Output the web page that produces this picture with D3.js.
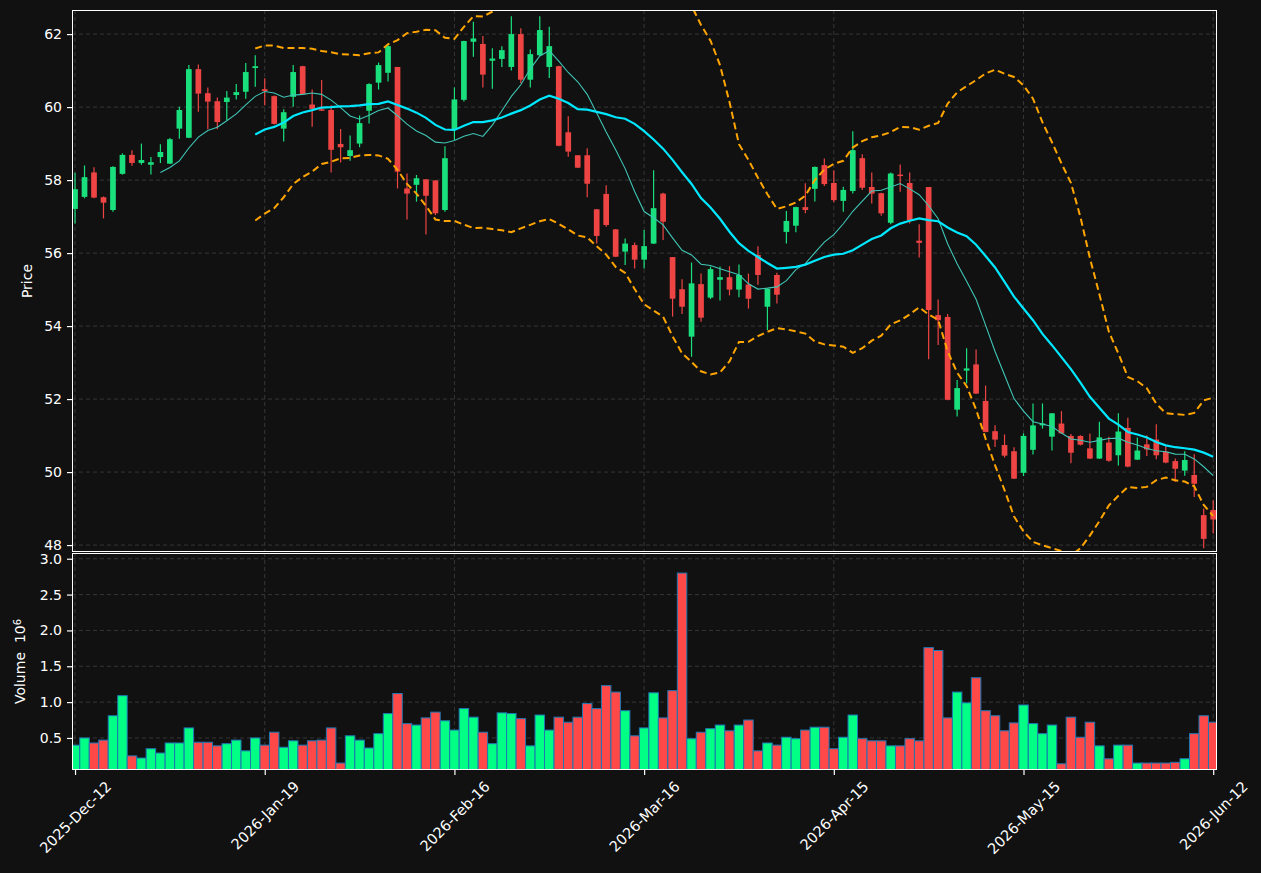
<!DOCTYPE html>
<html>
<head>
<meta charset="utf-8">
<script src="https://cdn.jsdelivr.net/npm/d3@7"></script>
<style>
  body { margin: 0; background: #111111; }
  text { font-family: "DejaVu Sans", sans-serif; }
</style>
</head>
<body>
<div id="chart"></div>
<script>
// daily OHLC, index 0 = 2025-Dec-12
const opens = [57.21,57.54,58.21,57.53,57.18,58.17,58.69,58.47,58.42,58.63,
  58.45,59.41,59.16,61.04,60.38,60.16,60.14,60.33,60.42,61.07,
  60.49,60.30,59.41,60.28,61.12,60.07,59.94,59.92,58.99,58.66,
  59.00,59.90,60.67,60.94,61.10,57.77,57.87,58.02,57.99,57.18,
  59.40,60.20,61.79,61.73,61.27,61.32,61.10,62.00,60.75,61.42,
  61.10,61.12,59.31,58.68,58.68,57.20,57.62,56.65,56.04,56.22,
  55.82,56.26,57.63,55.89,55.01,53.71,55.15,54.78,55.27,55.34,
  55.00,55.14,55.95,54.53,55.40,56.58,56.75,57.26,57.76,58.41,
  57.92,57.43,57.70,58.60,57.81,57.64,56.83,58.15,57.92,56.34,
  57.81,54.30,54.25,51.71,52.78,52.95,51.95,51.12,50.74,50.57,
  49.98,50.61,51.28,50.97,51.33,50.99,50.99,50.65,50.37,50.81,
  50.46,51.21,50.34,50.76,50.89,50.56,50.30,50.04,49.92,48.82,48.96];
const highs = [58.20,58.40,58.35,57.55,58.38,58.73,58.82,59.00,58.63,58.98,
  59.15,60.01,61.15,61.17,60.54,60.26,60.44,60.63,61.21,61.42,
  60.79,60.32,59.94,61.15,61.13,60.48,60.74,60.05,59.40,59.22,
  59.77,60.65,61.22,61.74,61.10,58.18,58.14,58.03,58.00,58.93,
  60.54,61.82,62.34,61.95,61.61,61.67,62.49,62.16,61.58,62.49,
  62.20,61.13,59.75,58.69,58.87,57.21,57.86,56.66,56.40,56.29,
  56.63,58.27,57.65,55.89,55.28,55.74,55.44,55.63,55.63,55.64,
  55.69,55.44,56.19,55.03,55.46,57.15,57.27,57.91,58.37,58.59,
  58.27,57.82,59.34,58.71,58.21,57.65,58.21,58.43,58.21,56.79,
  57.81,54.73,54.33,52.52,53.39,53.36,52.37,51.28,51.03,50.68,
  51.06,51.88,51.88,51.62,51.67,51.04,51.01,51.06,51.38,50.97,
  51.61,51.49,50.95,51.01,51.31,50.71,50.37,50.57,50.49,49.00,49.23];
const lows = [56.81,57.50,57.50,56.95,57.13,58.15,58.39,58.42,58.15,58.47,
  58.44,59.13,59.15,59.87,59.39,59.39,59.64,60.21,60.23,60.56,
  60.05,59.52,59.06,60.01,60.34,59.46,59.89,58.21,58.48,58.53,
  58.90,59.55,60.48,60.70,57.77,56.92,57.41,56.51,57.04,57.13,
  59.10,60.15,61.38,60.54,60.50,61.10,61.00,60.65,60.54,61.40,
  60.80,58.93,58.64,58.33,57.53,56.26,56.72,55.89,55.67,55.58,
  55.58,56.25,56.36,54.26,54.33,53.16,54.12,54.74,54.70,54.84,
  54.79,54.48,55.13,53.89,54.62,56.26,56.57,57.09,57.41,57.84,
  57.39,57.13,57.63,57.73,57.36,57.02,56.79,57.68,56.81,55.88,
  53.09,53.48,51.97,51.52,52.43,52.14,51.09,50.69,50.40,49.81,
  49.89,50.48,51.19,50.59,51.05,50.24,50.73,50.36,50.36,50.28,
  50.18,50.13,50.33,50.44,50.35,50.24,49.73,49.90,49.32,47.91,48.32];
const closes = [57.75,58.08,57.52,57.38,58.36,58.69,58.47,58.55,58.49,58.77,
  59.12,59.92,61.04,60.37,60.15,59.59,60.26,60.41,60.96,61.12,
  60.44,59.54,59.86,60.96,60.35,59.95,59.90,58.83,58.90,58.82,
  59.56,60.63,61.15,61.67,58.23,57.63,58.05,57.57,57.09,58.60,
  60.21,61.81,61.88,60.89,61.33,61.56,62.00,60.75,61.45,62.11,
  61.67,58.94,58.78,58.34,57.90,56.47,56.77,55.90,56.26,55.82,
  56.19,57.23,56.86,54.75,54.53,55.17,54.23,55.56,55.34,55.00,
  55.40,54.75,55.40,55.02,54.86,56.88,57.26,57.18,58.36,57.89,
  57.45,57.73,58.82,57.79,57.63,57.09,58.18,58.11,56.90,56.28,
  54.44,54.16,51.98,52.30,52.84,52.15,51.10,50.89,50.45,49.82,
  50.99,51.28,51.33,51.61,51.06,50.53,50.75,50.37,50.95,50.31,
  51.11,50.15,50.59,50.62,50.46,50.26,50.09,50.33,49.68,48.17,48.70];
// volume in millions
const volumes = [0.40,0.50,0.43,0.47,0.81,1.09,0.25,0.22,0.35,0.29,
  0.43,0.43,0.64,0.44,0.44,0.39,0.42,0.47,0.32,0.50,
  0.40,0.58,0.37,0.46,0.40,0.46,0.47,0.64,0.15,0.53,
  0.47,0.36,0.56,0.84,1.12,0.70,0.68,0.78,0.86,0.74,
  0.61,0.91,0.79,0.58,0.42,0.85,0.84,0.77,0.39,0.82,
  0.61,0.79,0.72,0.79,0.98,0.91,1.23,1.14,0.88,0.53,
  0.64,1.13,0.78,1.16,2.80,0.49,0.58,0.63,0.68,0.60,
  0.68,0.75,0.32,0.43,0.40,0.51,0.49,0.61,0.65,0.65,
  0.35,0.51,0.82,0.49,0.46,0.46,0.39,0.39,0.49,0.46,
  1.76,1.72,0.78,1.14,0.99,1.34,0.88,0.81,0.60,0.71,
  0.96,0.70,0.56,0.68,0.14,0.79,0.51,0.72,0.39,0.21,
  0.40,0.40,0.15,0.15,0.15,0.15,0.16,0.21,0.56,0.81,0.72];

const tickIdx = [0, 20, 40, 60, 80, 100, 120];
const tickLabels = ["2025-Dec-12","2026-Jan-19","2026-Feb-16","2026-Mar-16","2026-Apr-15","2026-May-15","2026-Jun-12"];
const priceTicks = [48, 50, 52, 54, 56, 58, 60, 62];
const volTicks = [0.5, 1.0, 1.5, 2.0, 2.5, 3.0];

// indicators as the chart defines them: 10 and 20 day means, 20 day bands at 2 sd
function rolling(vals, n, fn) {
  return vals.map((v, i) => i < n - 1 ? null : fn(vals.slice(i - n + 1, i + 1)));
}
const mav10 = rolling(closes, 10, w => d3.mean(w));
const mav20 = rolling(closes, 20, w => d3.mean(w));
const sd20 = rolling(closes, 20, w => { let m = d3.mean(w); return Math.sqrt(d3.mean(w, v => (v - m) * (v - m))); });
const bbUpper = mav20.map((m, i) => m == null ? null : m + 2 * sd20[i]);
const bbLower = mav20.map((m, i) => m == null ? null : m - 2 * sd20[i]);

const W = 1261, H = 873;
const left = 72, right = 1217;
const pTop = 10, pBot = 552, vTop = 553, vBot = 770;

const upC = "#19e07d", downC = "#ee4444";
const vUp = "#00ff84", vDown = "#ff4848";
const gridC = "#363636", fg = "#ffffff";

let svg = d3.select("#chart").append("svg").attr("width", W).attr("height", H);
svg.append("rect").attr("width", W).attr("height", H).attr("fill", "#111111");

let x = d3.scaleLinear().domain([-0.32, 120.4]).range([left, right]);
let y = d3.scaleLinear().domain([47.81, 62.66]).range([pBot, pTop]);
let yv = d3.scaleLinear().domain([0.053, 3.08]).range([vBot, vTop]);
const step = x(1) - x(0);

let defs = svg.append("defs");
defs.append("clipPath").attr("id", "clipP").append("rect")
  .attr("x", left).attr("y", pTop).attr("width", right - left).attr("height", pBot - pTop);
defs.append("clipPath").attr("id", "clipV").append("rect")
  .attr("x", left).attr("y", vTop).attr("width", right - left).attr("height", vBot - vTop);

// grid
function grid(g, ys, yScale, top, bot) {
  g.selectAll(".hg").data(ys).enter().append("line")
    .attr("x1", left).attr("x2", right)
    .attr("y1", d => yScale(d)).attr("y2", d => yScale(d))
    .attr("stroke", gridC).attr("stroke-width", 1).attr("stroke-dasharray", "4,3");
  g.selectAll(".vg").data(tickIdx).enter().append("line")
    .attr("x1", d => x(d)).attr("x2", d => x(d))
    .attr("y1", top).attr("y2", bot)
    .attr("stroke", gridC).attr("stroke-width", 1).attr("stroke-dasharray", "4,3");
}
grid(svg.append("g"), priceTicks, y, pTop, pBot);
grid(svg.append("g"), volTicks, yv, vTop, vBot);

// candles
let pg = svg.append("g").attr("clip-path", "url(#clipP)");
let idx = d3.range(closes.length);
let col = i => closes[i] >= opens[i] ? upC : downC;

pg.selectAll(".wick").data(idx).enter().append("line")
  .attr("x1", i => x(i)).attr("x2", i => x(i))
  .attr("y1", i => y(highs[i])).attr("y2", i => y(lows[i]))
  .attr("stroke", col).attr("stroke-width", 1.2);

const bw = step * 0.6;
pg.selectAll(".body").data(idx).enter().append("rect")
  .attr("x", i => x(i) - bw / 2)
  .attr("y", i => y(Math.max(opens[i], closes[i])))
  .attr("width", bw)
  .attr("height", i => Math.max(1, Math.abs(y(opens[i]) - y(closes[i]))))
  .attr("fill", col);

// moving averages and bands
let line = d3.line().defined(d => d[1] != null).x(d => x(d[0])).y(d => y(d[1]));
let pts = arr => arr.map((v, i) => [i, v]);

pg.append("path").datum(pts(bbUpper)).attr("d", line)
  .attr("fill", "none").attr("stroke", "#ffa500").attr("stroke-width", 2).attr("stroke-dasharray", "7,4");
pg.append("path").datum(pts(bbLower)).attr("d", line)
  .attr("fill", "none").attr("stroke", "#ffa500").attr("stroke-width", 2).attr("stroke-dasharray", "7,4");
pg.append("path").datum(pts(mav10)).attr("d", line)
  .attr("fill", "none").attr("stroke", "#3fc6b6").attr("stroke-width", 1.1);
pg.append("path").datum(pts(mav20)).attr("d", line)
  .attr("fill", "none").attr("stroke", "#00e8ff").attr("stroke-width", 2.2);

// volume
let vg = svg.append("g").attr("clip-path", "url(#clipV)");
vg.selectAll(".vol").data(idx).enter().append("rect")
  .attr("x", i => x(i) - step / 2)
  .attr("y", i => yv(volumes[i]))
  .attr("width", step)
  .attr("height", i => vBot - yv(volumes[i]))
  .attr("fill", i => closes[i] >= opens[i] ? vUp : vDown)
  .attr("stroke", "#1f77b4").attr("stroke-width", 1);

// spines
[[pTop, pBot], [vTop, vBot]].forEach(p => {
  svg.append("rect").attr("x", left + 0.5).attr("y", p[0] + 0.5)
    .attr("width", right - left - 1).attr("height", p[1] - p[0] - 1)
    .attr("fill", "none").attr("stroke", fg).attr("stroke-width", 1.2)
    .attr("shape-rendering", "crispEdges");
});

// axes
function styleAxis(g) {
  g.select(".domain").remove();
  g.selectAll(".tick line").attr("stroke", fg).attr("stroke-width", 1.2);
  g.selectAll(".tick text").attr("fill", fg).style("font-size", "14px").style("font-family", "DejaVu Sans");
}
svg.append("g").attr("transform", `translate(${left},0)`)
  .call(d3.axisLeft(y).tickValues(priceTicks).tickSize(5).tickPadding(5).tickFormat(d3.format("d")))
  .call(styleAxis);
svg.append("g").attr("transform", `translate(${left},0)`)
  .call(d3.axisLeft(yv).tickValues(volTicks).tickSize(5).tickPadding(5).tickFormat(d3.format(".1f")))
  .call(styleAxis);

let xa = svg.append("g").attr("transform", `translate(0,${vBot})`)
  .call(d3.axisBottom(x).tickValues(tickIdx).tickSize(5).tickFormat((d, i) => tickLabels[i]))
  .call(styleAxis);
xa.selectAll(".tick text").style("font-size", "14.5px").each(function () {
  let L = this.getComputedTextLength();
  let hh = (L + 14) * Math.SQRT1_2;
  d3.select(this).attr("y", 0).attr("dy", "0.35em").attr("text-anchor", "middle")
    .attr("transform", `translate(0,${9 + hh / 2}) rotate(-45)`);
});

// axis titles
svg.append("text").attr("transform", `translate(32,${(pTop + pBot) / 2}) rotate(-90)`)
  .attr("text-anchor", "middle").attr("fill", fg).style("font-size", "14px").text("Price");
let vt = svg.append("text").attr("transform", `translate(25,${(vTop + vBot) / 2}) rotate(-90)`)
  .attr("text-anchor", "middle").attr("fill", fg).style("font-size", "14px");
vt.append("tspan").text("Volume\u00a0\u00a010");
vt.append("tspan").attr("dy", "-0.45em").style("font-size", "10px").text("6");
</script>
</body>
</html>
